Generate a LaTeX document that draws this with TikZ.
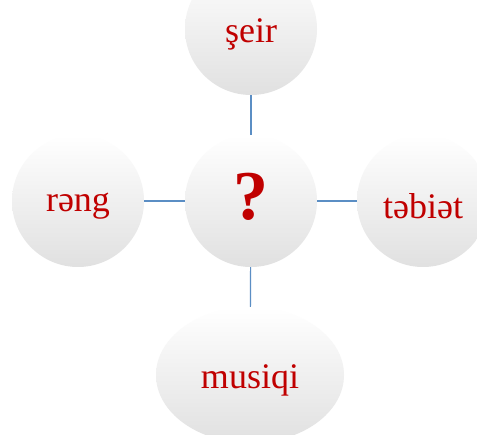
\documentclass[tikz,border=0pt]{standalone}
\usepackage{fontspec}
\setmainfont{Liberation Serif}
\usetikzlibrary{shapes.geometric}
\definecolor{wordred}{HTML}{C00000}
\definecolor{linkblue}{HTML}{5B8EC4}
\tikzset{
  bubble/.style={circle, minimum size=132pt, inner sep=0pt,
    top color=white, middle color=white, bottom color=black!12},
  oval/.style={bubble, ellipse, minimum width=188pt, minimum height=136pt},
  word/.style={text=wordred, font=\fontsize{36}{40}\selectfont, yshift=-5pt},
  link/.style={draw=linkblue, line width=1.2pt}
}
\begin{document}
\begin{tikzpicture}[x=1pt, y=-1pt]
  \clip (0,0) rectangle (477,435);
  \fill[white] (0,0) rectangle (477,435);
  \node[bubble, label={[word, font=\fontsize{70}{74}\selectfont\bfseries, yshift=9pt]center:?}] (hub) at (251,201) {};
  \node[bubble, label={[word]center:şeir}] (poem) at (251,29) {};
  \node[bubble, label={[word]center:rəng}] (colour) at (78,201) {};
  \node[bubble, label={[word]center:təbiət}] (nature) at (423,201) {};
  \node[oval, label={[word]center:musiqi}] (music) at (250,375) {};
  \draw[link] (hub) -- (poem);
  \draw[link] (hub) -- (colour);
  \draw[link] (hub) -- (nature);
  \draw[link] (hub) -- (music);
\end{tikzpicture}
\end{document}
